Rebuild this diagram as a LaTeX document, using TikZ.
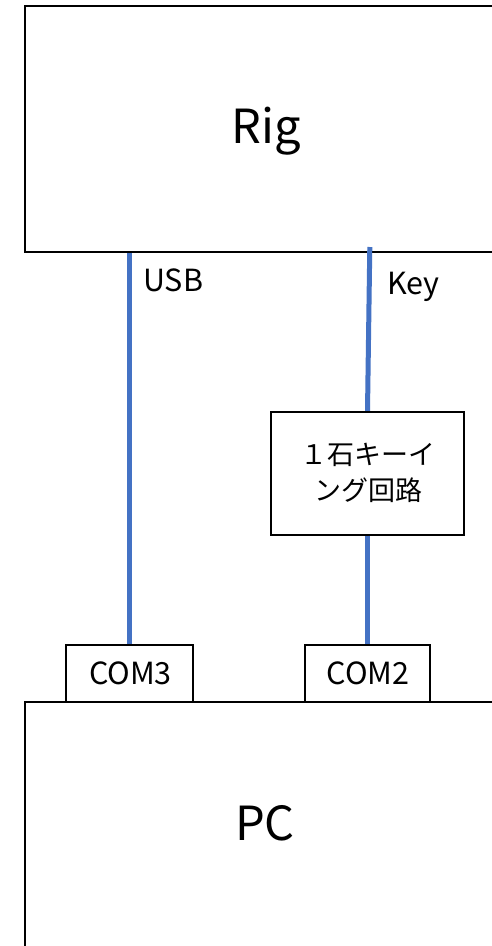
\documentclass[tikz,border=0pt]{standalone}
\usepackage{fontspec}
\setmainfont{Noto Sans CJK JP}
\begin{document}
\begin{tikzpicture}[x=1pt,y=-1pt,
  box/.style={draw=black, line width=2.2pt, rectangle, inner sep=0pt},
  wire/.style={draw={rgb,255:red,68;green,114;blue,196}, line width=5pt},
  lbl/.style={font=\fontsize{30.5}{34}\selectfont, inner sep=0pt, anchor=base},
  big/.style={font=\fontsize{47}{52}\selectfont, inner sep=0pt, anchor=base}]
\useasboundingbox (0,0) rectangle (492,946);
\clip (0,0) rectangle (492,946);
\fill[white] (0,0) rectangle (492,946);

% main units
\node[box, minimum width=482pt, minimum height=246pt] (rig) at (266,129) {};
\node[box, minimum width=482pt, minimum height=260pt] (pc) at (266,832) {};
\node[big] (rigtxt) at (266,143) {Rig};
\node[big] (pctxt) at (265,840) {PC};

% serial ports
\node[box, minimum width=127pt, minimum height=57pt] (com3) at (129.5,673.5) {};
\node[box, minimum width=125pt, minimum height=57pt] (com2) at (367.5,673.5) {};
\node[lbl] (com3txt) at (130.5,684) {COM3};
\node[lbl] (com2txt) at (368,684) {COM2};

% keying circuit
\node[box, minimum width=193pt, minimum height=123pt] (key) at (367.5,473.5) {};
\node[font=\fontsize{27}{36}\selectfont, align=center, inner sep=0pt] (keytxt) at (368,473) {１石キーイ\\ング回路};

% cables
\coordinate (keytop) at (369.8,247);
\draw[wire] (com3.north) -- (com3.north |- rig.south);
\draw[wire] (keytop) -- (key.north);
\draw[wire] (key.south) -- (com2.north);

\node[lbl, anchor=base west] (usb) at (143,291) {USB};
\node[lbl, anchor=base west] (keylbl) at (387,294) {Key};
\end{tikzpicture}
\end{document}
